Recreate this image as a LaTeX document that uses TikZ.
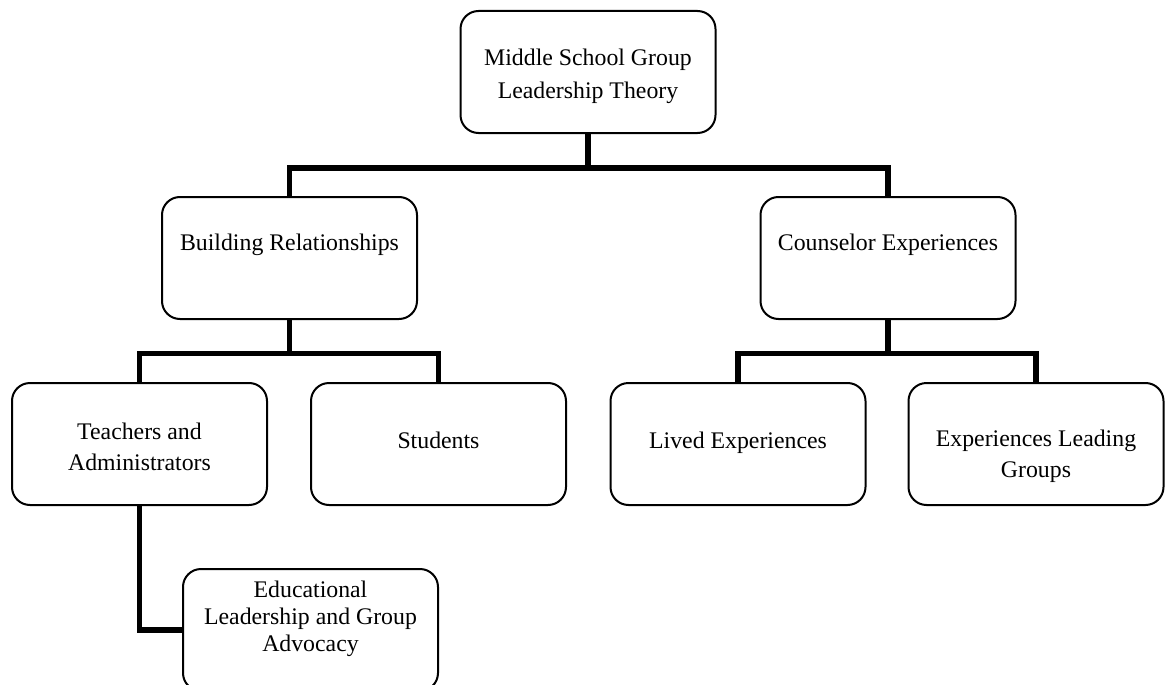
\documentclass[tikz,border=0pt]{standalone}
\usepackage{fontspec}
\setmainfont{Liberation Serif}
\usepackage{tikz}

\tikzset{
    box/.style={draw=black, line width=2pt, rounded corners=18pt,
        minimum width=255pt, minimum height=122pt, inner sep=0pt,
        align=center, font=\fontsize{23.8}{31}\selectfont},
    link/.style={draw=black, line width=5.5pt}
}

\begin{document}
\begin{tikzpicture}[x=1pt, y=1pt]
        \useasboundingbox (0,0) rectangle (1165,-685);

        \coordinate (T) at (588,-72);
        \coordinate (B) at (289.5,-258);
        \coordinate (C) at (888,-258);

        \node[box, font=\fontsize{23.8}{33}\selectfont] (theory) at (T) {\rule{0pt}{26pt}Middle School Group\\Leadership Theory};
        \node[box] (build) at (B) {Building Relationships\\\mbox{}};
        \node[box] (couns) at (C) {Counselor Experiences\\\mbox{}};

        \coordinate (TA) at (139.5,-444);
        \coordinate (S) at (438.5,-444);
        \coordinate (L) at (738,-444);
        \coordinate (E) at (1036,-444);
        \coordinate (Ed) at (310.5,-630);

        \node[box] (teach) at (TA) {\rule{0pt}{22pt}Teachers and\\Administrators};
        \node[box] (stud) at (S) {\rule[-8pt]{0pt}{8pt}Students};
        \node[box] (lived) at (L) {\rule[-8pt]{0pt}{8pt}Lived Experiences};
        \node[box] (lead) at (E) {\rule{0pt}{10pt}\\Experiences Leading\\Groups};
        \node[box, font=\fontsize{23.8}{27.3}\selectfont] (advoc) at (Ed) {Educational\\Leadership and Group\\Advocacy\\\mbox{}};

        \draw[link] (theory.south) -- ++(0,-34) coordinate (jT);
        \draw[link] (jT) -| (build.north);
        \draw[link] (jT) -| (couns.north);

        \draw[link] (build.south) -- ++(0,-33.5) coordinate (jB);
        \draw[link] (jB) -| (teach.north);
        \draw[link] (jB) -| (stud.north);

        \draw[link] (couns.south) -- ++(0,-33.5) coordinate (jC);
        \draw[link] (jC) -| (lived.north);
        \draw[link] (jC) -| (lead.north);

        \draw[link] (teach.south) |- (advoc.west);
\end{tikzpicture}
\end{document}
